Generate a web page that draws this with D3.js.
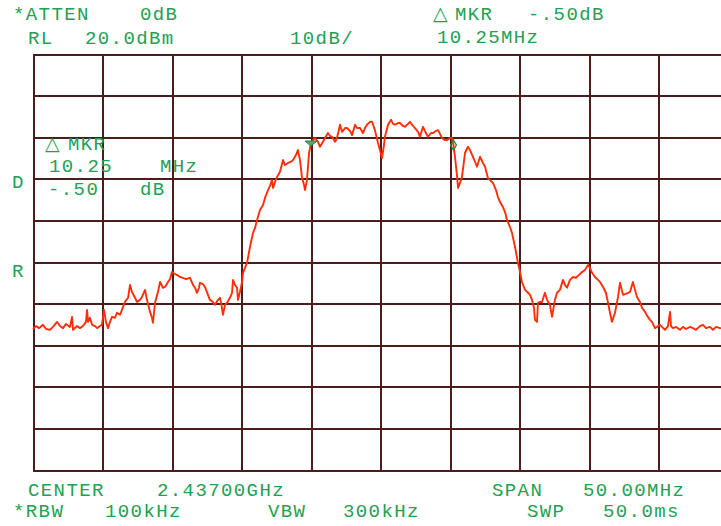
<!DOCTYPE html>
<html>
<head>
<meta charset="utf-8">
<script src="https://cdn.jsdelivr.net/npm/d3@7/dist/d3.min.js"></script>
<style>
  html, body { margin: 0; padding: 0; background: #ffffff; }
  svg { display: block; }
  text { font-family: "Liberation Mono", "DejaVu Sans Mono", monospace; }
</style>
</head>
<body>
<svg id="chart" width="721" height="526"></svg>
<script>
// ---------- data ----------
const centerGHz = 2.437;
const spanMHz = 50;
const refLevelDbm = 20;
const dbPerDiv = 10;
const divisions = 10;

// trace: frequency offset from center (MHz) and level (dBm)
const freqOffsetMHz = [
  -25.00,-24.78,-24.57,-24.28,-24.06,-23.78,-23.56,-23.27,-23.06,-22.84,-22.63,-22.34,-22.19,-22.12,
  -21.83,-21.62,-21.40,-21.19,-21.11,-21.04,-20.90,-20.75,-20.54,-20.39,-20.18,-20.04,-19.89,-19.75,
  -19.60,-19.46,-19.32,-19.10,-18.96,-18.74,-18.60,-18.38,-18.16,-18.02,-17.88,-17.66,-17.52,-17.30,
  -17.16,-16.94,-16.80,-16.58,-16.44,-16.37,-16.22,-16.01,-15.86,-15.65,-15.50,-15.29,-15.14,-15.00,
  -14.78,-14.64,-14.42,-14.21,-13.99,-13.70,-13.49,-13.34,-13.20,-13.06,-12.99,-12.77,-12.63,-12.41,
  -12.27,-12.05,-11.91,-11.69,-11.55,-11.47,-11.33,-11.19,-11.04,-10.83,-10.68,-10.61,-10.47,-10.32,
  -10.25,-10.11,-9.96,-9.89,-9.75,-9.60,-9.39,-9.17,-9.03,-8.88,-8.67,-8.45,-8.31,-8.09,-7.95,-7.81,
  -7.73,-7.59,-7.45,-7.23,-7.01,-6.87,-6.65,-6.44,-6.29,-6.08,-5.94,-5.79,-5.65,-5.50,-5.43,-5.29,
  -5.14,-5.00,-4.86,-4.71,-4.50,-4.35,-4.14,-3.99,-3.78,-3.63,-3.49,-3.27,-3.13,-2.91,-2.77,-2.55,
  -2.41,-2.19,-2.05,-1.83,-1.69,-1.47,-1.26,-1.12,-0.97,-0.76,-0.61,-0.40,-0.18,-0.04,0.11,0.25,
  0.32,0.54,0.76,0.90,1.04,1.26,1.40,1.62,1.76,1.98,2.12,2.34,2.48,2.70,2.84,3.06,3.27,3.42,3.63,
  3.78,3.99,4.14,4.28,4.42,4.64,4.78,5.00,5.14,5.25,5.36,5.50,5.58,5.72,5.86,6.08,6.29,6.44,6.65,
  6.80,6.94,7.16,7.37,7.52,7.73,7.88,8.09,8.31,8.45,8.60,8.81,8.96,9.10,9.32,9.46,9.68,9.89,10.04,
  10.18,10.40,10.61,10.76,10.90,11.04,11.11,11.26,11.33,11.47,11.62,11.83,11.98,12.19,12.34,12.55,
  12.70,12.91,13.13,13.27,13.42,13.63,13.85,14.06,14.28,14.50,14.71,14.93,15.07,15.22,15.43,15.65,
  15.79,16.01,16.22,16.37,16.51,16.65,16.87,17.09,17.23,17.45,17.59,17.81,17.95,18.16,18.31,18.45,
  18.67,18.81,19.03,19.24,19.39,19.53,19.75,19.89,20.11,20.25,20.47,20.68,20.83,20.90,21.04,21.26,
  21.55,21.76,21.98,22.27,22.48,22.70,22.98,23.20,23.42,23.70,23.92,24.14,24.42,25.00
];
const levelDbm = [
  -46.1,-45.4,-45.9,-45.1,-46.1,-46.3,-45.6,-44.4,-45.4,-45.9,-44.9,-45.6,-43.2,-46.3,
  -45.4,-45.9,-45.4,-44.4,-41.5,-44.4,-43.4,-45.1,-45.4,-45.9,-45.4,-45.1,-41.5,-44.4,
  -45.9,-44.4,-43.2,-43.4,-42.2,-42.7,-41.5,-39.6,-38.6,-35.5,-37.2,-38.6,-39.6,-39.1,
  -38.4,-36.7,-39.1,-42.0,-43.4,-44.6,-39.8,-37.2,-34.8,-36.2,-36.0,-34.8,-34.1,-32.4,
  -32.9,-33.1,-33.6,-33.8,-34.1,-33.8,-35.5,-36.2,-37.4,-36.2,-35.0,-35.3,-36.0,-37.9,
  -39.1,-39.6,-40.3,-39.1,-38.6,-39.8,-42.7,-40.3,-39.8,-38.6,-37.4,-34.3,-35.5,-36.2,
  -39.1,-37.2,-34.8,-32.6,-31.4,-30.2,-26.4,-23.0,-21.8,-19.9,-17.5,-16.3,-14.6,-12.7,-11.7,-10.3,
  -12.2,-10.8,-9.6,-8.3,-5.5,-6.7,-6.2,-5.9,-5.5,-4.3,-3.1,-5.5,-9.6,-11.5,-12.7,-10.3,
  -3.8,-1.4,-0.7,-0.2,-1.1,-2.3,-1.1,-0.2,1.0,0.3,0.1,-1.1,-0.2,3.0,1.3,2.2,
  2.2,1.5,0.5,3.0,2.2,2.2,1.0,2.2,3.0,3.7,3.7,1.7,-1.4,-3.1,-5.0,-1.9,
  0.1,3.0,4.2,3.2,3.0,3.4,3.4,2.7,2.5,3.2,3.7,2.7,2.2,1.3,0.1,2.5,1.0,0.1,1.0,
  1.0,1.5,1.7,0.8,-0.2,-0.7,-0.7,-0.2,-0.2,-1.9,-4.7,-9.1,-12.2,-11.0,-9.6,-3.8,-2.3,-3.1,-4.7,
  -5.9,-7.1,-4.7,-6.2,-7.1,-9.8,-10.3,-11.0,-12.7,-14.4,-15.6,-16.8,-18.0,-19.9,-21.6,-23.0,-26.4,-30.2,-32.4,
  -34.8,-36.7,-37.4,-37.9,-39.1,-41.0,-43.9,-44.4,-39.8,-39.6,-39.6,-37.4,-39.1,-40.3,-43.2,-39.1,
  -37.4,-36.7,-34.3,-35.5,-36.2,-34.3,-33.6,-33.8,-33.1,-32.4,-31.9,-30.7,-31.4,-32.6,-33.6,-34.3,
  -34.8,-36.0,-37.4,-39.8,-42.2,-44.4,-42.2,-38.4,-35.0,-37.9,-37.7,-37.4,-37.2,-34.8,-36.7,-38.4,
  -39.6,-41.0,-42.0,-43.2,-43.9,-44.4,-45.9,-45.6,-45.1,-45.6,-46.3,-45.4,-42.0,-45.4,-45.9,-45.6,
  -46.3,-45.6,-46.1,-45.6,-45.9,-46.3,-45.4,-45.1,-45.9,-45.6,-46.3,-45.6,-45.9,-45.8
];

// markers (frequency offset in MHz)
const markerRefMHz = -5.00;
const markerDeltaMHz = 10.25;

// annotation strings
const headerTexts = ["*ATTEN", "0dB", "RL", "20.0dBm", "10dB/", "\u25B3", "MKR", "-.50dB", "10.25MHz"];
const sideTexts = ["\u25B3", "MKR", "10.25", "MHz", "-.50", "dB", "D", "R"];
const footerTexts = ["CENTER", "2.43700GHz", "SPAN", "50.00MHz", "*RBW", "100kHz", "VBW", "300kHz", "SWP", "50.0ms"];

// ---------- layout ----------
const gridLeft = 33, gridTop = 54, gridW = 695, gridH = 416;
const gridColor = "#4a1c1c";
const textColor = "#23a052";
const traceColor = "#ff2e0a";

const headerPosAll = [[13,20],[140,20],[28,44],[85,44],[290,44],[433,20],[455,20],[528,20],[437,43]];
const sidePos = [[45,150],[68,150],[49,172],[160,172],[48,195],[140,195],[12,188],[12,277]];
const footerPos = [[28,496],[157,496],[492,496],[583,496],[13,517],[105,517],[268,517],[343,517],[527,517],[603,517]];

const svg = d3.select("#chart");

const x = d3.scaleLinear().domain([-spanMHz/2, spanMHz/2]).range([gridLeft, gridLeft + gridW]);
const y = d3.scaleLinear()
  .domain([refLevelDbm, refLevelDbm - dbPerDiv*divisions])
  .range([gridTop, gridTop + gridH]);

// grid via axes
const xTicks = d3.range(0, divisions + 1).map(i => -spanMHz/2 + i*spanMHz/divisions);
const yTicks = d3.range(0, divisions + 1).map(i => refLevelDbm - i*dbPerDiv);

const gx = svg.append("g")
  .attr("transform", `translate(0,${gridTop})`)
  .call(d3.axisBottom(x).tickValues(xTicks).tickSize(gridH).tickFormat(""));
const gy = svg.append("g")
  .attr("transform", `translate(${gridLeft},0)`)
  .call(d3.axisRight(y).tickValues(yTicks).tickSize(gridW).tickFormat(""));
[gx, gy].forEach(g => {
  g.select(".domain").remove();
  g.selectAll(".tick line").attr("stroke", gridColor).attr("stroke-width", 2).attr("shape-rendering", "crispEdges");
});

// trace
const traceData = freqOffsetMHz.map((f, i) => ({ f, v: levelDbm[i] }));
const line = d3.line().x(d => x(d.f)).y(d => y(d.v));
svg.append("path")
  .datum(traceData)
  .attr("fill", "none")
  .attr("stroke", traceColor)
  .attr("stroke-width", 1.9)
  .attr("stroke-linejoin", "round")
  .attr("d", line);

// markers on trace
function levelAt(f) {
  const i = d3.bisector(d => d.f).left(traceData, f);
  if (i <= 0) return traceData[0].v;
  if (i >= traceData.length) return traceData[traceData.length-1].v;
  const a = traceData[i-1], b = traceData[i];
  const t = (f - a.f) / (b.f - a.f);
  return a.v + t*(b.v - a.v);
}
const m1 = { f: markerRefMHz, v: levelAt(markerRefMHz) };
const m2 = { f: markerRefMHz + markerDeltaMHz, v: levelAt(markerRefMHz + markerDeltaMHz) };

svg.append("path")
  .attr("d", `M${x(m1.f)-6},${y(m1.v)-2} L${x(m1.f)+6},${y(m1.v)-2} L${x(m1.f)},${y(m1.v)+3} Z`)
  .attr("fill", "#5aa36a").attr("stroke", "#1f8a3e").attr("stroke-width", 1);
svg.append("path")
  .attr("transform", `translate(${x(m2.f)},${y(m2.v)})`)
  .attr("d", d3.symbol().type(d3.symbolDiamond).size(30)())
  .attr("fill", "none").attr("stroke", "#1f8a3e").attr("stroke-width", 1.3);

// texts
function addTexts(strings, pos) {
  strings.forEach((s, i) => {
    const isTri = s === "\u25B3";
    svg.append("text")
      .attr("x", pos[i][0]).attr("y", pos[i][1])
      .attr("fill", textColor)
      .attr("font-size", 19)
      .attr("letter-spacing", isTri ? 0 : 1.4)
      .style("font-family", isTri ? "'DejaVu Sans', sans-serif" : null)
      .text(s);
  });
}
addTexts(headerTexts, headerPosAll);
addTexts(sideTexts, sidePos);
addTexts(footerTexts, footerPos);
</script>
</body>
</html>
